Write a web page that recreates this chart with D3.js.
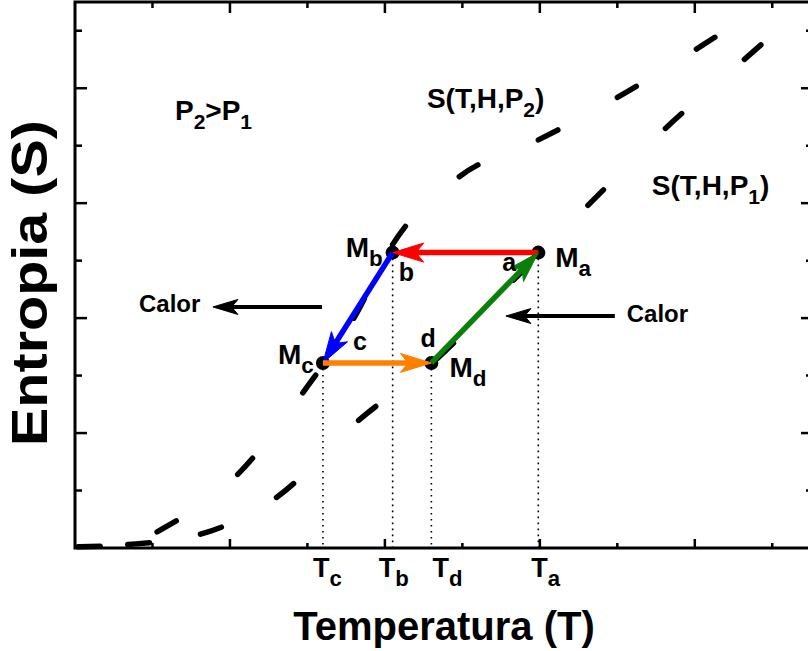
<!DOCTYPE html>
<html lang="es">
<head>
<meta charset="utf-8">
<title>Entropia vs Temperatura</title>
<style>
  body { margin: 0; background: #fff; }
  svg { display: block; font-family: "Liberation Sans", Arial, sans-serif; font-weight: bold; }
</style>
</head>
<body>
<div id="chart"></div>
<script src="https://d3js.org/d3.v7.min.js"></script>
<script>
    // curva S(T,H,P1) (nodos, unidades de tick)
    const p1T = [0.02, 0.34, 0.81, 1.30, 1.83, 2.34, 2.83, 3.31, 3.81, 4.32, 4.73]
    const p1S = [0.01, 0.03, 0.12, 0.44, 1.11, 1.65, 2.33, 2.98, 3.65, 4.25, 4.74]
    // curva S(T,H,P2)
    const p2T = [0.53, 1.05, 1.47, 1.80, 2.05, 2.48, 2.99, 3.50, 4.01, 4.42]
    const p2S = [0.14, 0.64, 1.35, 2.00, 2.64, 3.23, 3.55, 3.92, 4.34, 4.70]

    // estados del ciclo
    const stateNames = ["a", "b", "c", "d"]
    const stateT = [2.99, 2.05, 1.60, 2.30]
    const stateS = [2.57, 2.57, 1.61, 1.61]
    // a->b, b->c, c->d, d->a
    const stepColors = ["#ff0000", "#0000ff", "#ff8000", "#0a800a"]

    const xMajor = [1, 2, 3, 4]
    const xMinor = [0.5, 1.5, 2.5, 3.5, 4.5]
    const yMajor = [1, 2, 3, 4]
    const yMinor = [0.5, 1.5, 2.5, 3.5, 4.5]

    const W = 808, H = 651
    const x = d3.scaleLinear().domain([0, 4.75]).range([75, 811])
    const y = d3.scaleLinear().domain([0, 4.75]).range([548, 2])

    const svg = d3.select("#chart").append("svg")
        .attr("width", W).attr("height", H)

    // marco y ticks
    const x0 = x(0), x1 = x(4.75), y0 = y(0), y1 = y(4.75)
    function tick(xa, ya, xb, yb) {
        svg.append("line").attr("x1", xa).attr("y1", ya).attr("x2", xb).attr("y2", yb)
            .attr("stroke", "#000").attr("stroke-width", 2.5)
    }
    xMajor.forEach(t => { tick(x(t), y0, x(t), y0 - 9); tick(x(t), y1, x(t), y1 + 11) })
    xMinor.forEach(t => { tick(x(t), y0, x(t), y0 - 5); tick(x(t), y1, x(t), y1 + 6) })
    yMajor.forEach(s => { tick(x0, y(s), x0 + 12, y(s)); tick(x1, y(s), x1 - 10, y(s)) })
    yMinor.forEach(s => { tick(x0, y(s), x0 + 7, y(s)); tick(x1, y(s), x1 - 5, y(s)) })
    svg.append("rect").attr("x", x0).attr("y", y1).attr("width", x1 - x0).attr("height", y0 - y1)
        .attr("fill", "none").attr("stroke", "#000").attr("stroke-width", 3)

    // lineas punteadas hasta el eje
    stateT.forEach((t, i) => {
        svg.append("line")
            .attr("x1", x(t)).attr("x2", x(t))
            .attr("y1", y(stateS[i]) + 6).attr("y2", y0)
            .attr("stroke", "#000").attr("stroke-width", 1.6)
            .attr("stroke-dasharray", "1.6 4.4")
    })

    // curvas punteadas: un trazo al inicio de cada tramo
    function lengthAtX(node, px, total) {
        let lo = 0, hi = total
        for (let k = 0; k < 40; k++) {
            const mid = (lo + hi) / 2
            if (node.getPointAtLength(mid).x < px) lo = mid; else hi = mid
        }
        return lo
    }
    function dashedCurve(T, S) {
        const pts = T.map((t, i) => [x(t), y(S[i])])
        const path = svg.append("path")
            .attr("d", d3.line().curve(d3.curveMonotoneX)(pts))
            .attr("fill", "none").attr("stroke", "#000")
            .attr("stroke-width", 5.5).attr("stroke-linecap", "round")
        const node = path.node()
        const total = node.getTotalLength()
        const lens = pts.map(p => lengthAtX(node, p[0], total))
        const dash = 22
        const arr = []
        for (let i = 0; i < lens.length - 1; i++) {
            arr.push(dash, Math.max(0.1, lens[i + 1] - lens[i] - dash))
        }
        path.attr("stroke-dasharray", arr.join(" "))
    }
    dashedCurve(p1T, p1S)
    dashedCurve(p2T, p2S)

    // puntos M
    stateT.forEach((t, i) => {
        svg.append("circle").attr("cx", x(t)).attr("cy", y(stateS[i])).attr("r", 7).attr("fill", "#000")
    })

    function arrow(xa, ya, xb, yb, color, lw, hl, hw) {
        const dx = xb - xa, dy = yb - ya, len = Math.hypot(dx, dy)
        const ux = dx / len, uy = dy / len
        const bx = xb - ux * hl, by = yb - uy * hl
        const nx = xb - ux * hl * 0.75, ny = yb - uy * hl * 0.75
        svg.append("line").attr("x1", xa).attr("y1", ya)
            .attr("x2", nx + ux * 2).attr("y2", ny + uy * 2)
            .attr("stroke", color).attr("stroke-width", lw)
        svg.append("path")
            .attr("d", `M${xb},${yb}L${bx - uy * hw},${by + ux * hw}L${nx},${ny}L${bx + uy * hw},${by - ux * hw}Z`)
            .attr("fill", color).attr("stroke", color).attr("stroke-width", 1).attr("stroke-linejoin", "round")
    }

    // flechas del ciclo
    stateT.forEach((t, i) => {
        const j = (i + 1) % stateT.length
        arrow(x(t), y(stateS[i]), x(stateT[j]), y(stateS[j]), stepColors[i], 5.5, 31, 9.5)
    })

    // flechas de calor
    arrow(x(1.594), y(2.097), x(0.89), y(2.097), "#000", 4, 25, 7.5)
    arrow(x(3.484), y(2.018), x(2.781), y(2.018), "#000", 4, 25, 7.5)

    function rich(px, py, parts, size, subScale) {
        const sc = subScale || 0.75
        const t = svg.append("text").attr("x", px).attr("y", py).attr("font-size", size)
        let down = false
        parts.forEach(p => {
            const sub = p[1]
            const s = t.append("tspan").text(p[0])
            if (sub && !down) { s.attr("dy", size * 0.32).attr("font-size", size * sc); down = true }
            else if (!sub && down) { s.attr("dy", -size * 0.32); down = false }
            else if (sub) s.attr("font-size", size * sc)
        })
        return t
    }

    // etiquetas M
    const mOff = [[17, 14], [-47, 4], [-45, 1], [18, 14]]
    const letterOff = [[-36, 18], [6, 28], [30, -13], [-11, -16]]
    const tOff = [-7, -14, -10, 1]
    stateT.forEach((t, i) => {
        const px = x(t), py = y(stateS[i])
        rich(px + mOff[i][0], py + mOff[i][1], [["M", false], [stateNames[i], true]], 28, 0.8)
        svg.append("text").attr("x", px + letterOff[i][0]).attr("y", py + letterOff[i][1])
            .attr("font-size", 25).text(stateNames[i])
        rich(px + tOff[i], 577, [["T", false], [stateNames[i], true]], 27, 0.82)
    })

    // textos
    rich(x(0.645), y(3.723), [["P", false], ["2", true], [">P", false], ["1", true]], 28)
    rich(x(2.271), y(3.828), [["S(T,H,P", false], ["2", true], [")", false]], 28)
    rich(x(3.723), y(3.071), [["S(T,H,P", false], ["1", true], [")", false]], 28)
    svg.append("text").attr("x", x(0.413)).attr("y", y(2.053)).attr("font-size", 24).text("Calor")
    svg.append("text").attr("x", x(3.561)).attr("y", y(1.966)).attr("font-size", 24).text("Calor")

    svg.append("text").attr("x", 444).attr("y", 640).attr("text-anchor", "middle")
        .attr("font-size", 40).text("Temperatura (T)")
    svg.append("text").attr("transform", "translate(47,283) rotate(-90)")
        .attr("text-anchor", "middle").attr("font-size", 50)
        .attr("textLength", 326).attr("lengthAdjust", "spacingAndGlyphs")
        .text("Entropia (S)")
</script>
</body>
</html>
